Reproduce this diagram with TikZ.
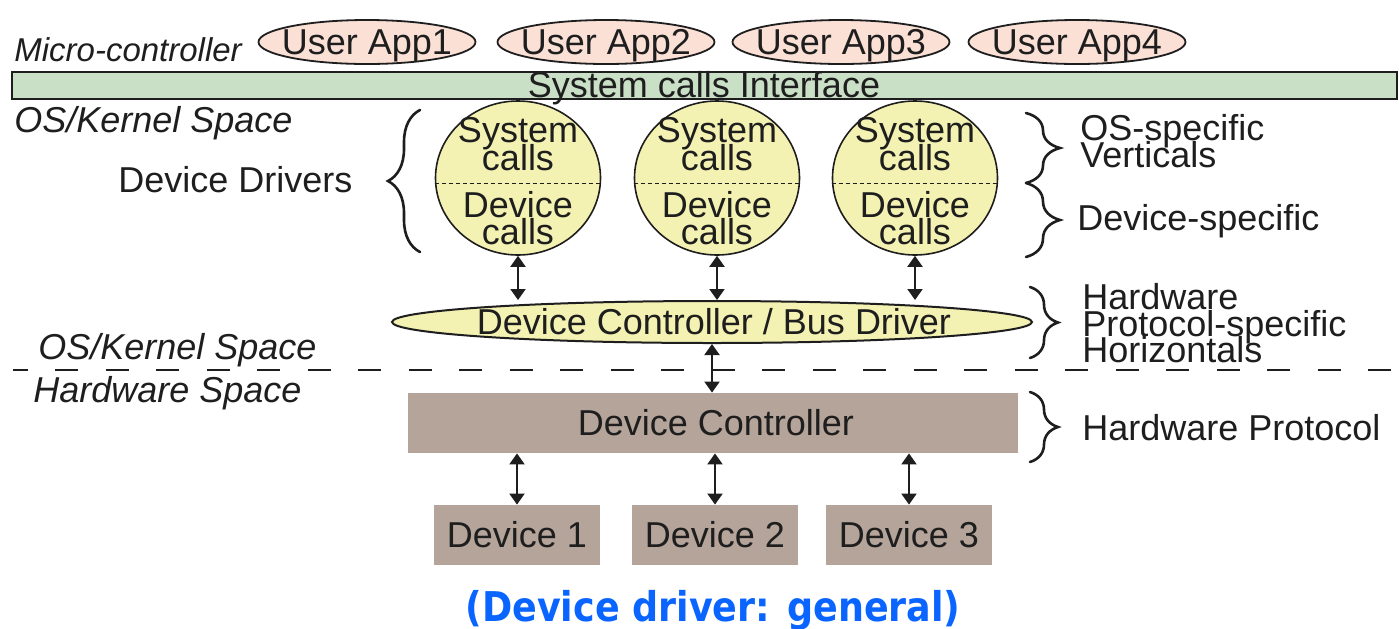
\documentclass[tikz,border=0pt]{standalone}
\usepackage{fontspec}
\setmainfont{Liberation Sans}
\newfontfamily\capfont{DejaVu Sans}[FakeStretch=0.89]
\usetikzlibrary{arrows.meta,shapes.geometric,decorations.pathreplacing,positioning}

\definecolor{ink}{HTML}{1E1E1E}
\definecolor{appfill}{HTML}{FBE0D6}
\definecolor{barfill}{HTML}{C9DFC6}
\definecolor{drvfill}{HTML}{F4F2B2}
\definecolor{hwfill}{HTML}{B5A49A}
\definecolor{capblue}{HTML}{0A64FF}

\begin{document}
\begin{tikzpicture}[x=0.5pt, y=-0.5pt,
    txt/.style={text=ink, inner sep=0pt, font=\fontsize{18}{13.5}\selectfont},
    ital/.style={txt, font=\itshape\fontsize{18}{13.5}\selectfont},
    app/.style={ellipse, draw=ink, line width=0.9pt, fill=appfill, minimum width=108.5pt, minimum height=22pt, inner sep=0pt},
    sysbar/.style={draw=ink, line width=1.2pt, fill=barfill, minimum width=692.5pt, minimum height=13.5pt, inner sep=0pt},
    drv/.style={ellipse, draw=ink, line width=0.8pt, fill=drvfill, minimum width=82.5pt, minimum height=77pt, inner sep=0pt},
    busdrv/.style={ellipse, draw=ink, line width=1pt, fill=drvfill, minimum width=320pt, minimum height=21pt, inner sep=0pt},
    hwbox/.style={fill=hwfill, minimum height=30pt, inner sep=0pt},
    dbl/.style={{Triangle[length=5.5pt,width=7.5pt]}-{Triangle[length=5.5pt,width=7.5pt]}, line width=1pt, draw=ink},
    brc/.style={decorate, decoration={brace, amplitude=#1}, line width=1.3pt, line cap=round, draw=ink},
    brc/.default=15pt]
        \useasboundingbox (0,0) rectangle (1399,628);

        % User space: the applications
        \node[txt, anchor=base west, font=\itshape\fontsize{16.5}{13.5}\selectfont] (micro) at (14,61) {Micro-controller};
        \foreach \i/\x in {1/367, 2/606, 3/841, 4/1077} {
            \node[app] (app\i) at (\x,42) {};
            \node[txt, anchor=base] (appname\i) at (\x,54) {User App\i};
        }

        % The system calls bar
        \node[sysbar] (bar) at (704.5,85.5) {};
        \node[txt, anchor=base] (bartext) at (704,97) {System calls Interface};

        % Device drivers (the OS-specific verticals)
        \node[ital, anchor=base west] (kernelup) at (14,132) {OS/Kernel Space};
        \node[txt, anchor=base west] (drvlabel) at (118,192) {Device Drivers};
        \draw[brc=16pt] (420,252) -- (420,110);
        \foreach \i/\x in {1/518, 2/717, 3/915} {
            \node[drv] (drv\i) at (\x,178) {};
            \draw[ink, line width=0.5pt, dash pattern=on 2pt off 1.5pt] ([yshift=-2.5pt]drv\i.west) -- ([yshift=-2.5pt]drv\i.east);
            \node[txt, anchor=base] (sysA\i) at (\x,142) {System};
            \node[txt, anchor=base] (sysB\i) at (\x,170) {calls};
            \node[txt, anchor=base] (devA\i) at (\x,217) {Device};
            \node[txt, anchor=base] (devB\i) at (\x,244) {calls};
        }
        \draw[brc=17pt] (1026,113) -- (1026,183);
        \draw[brc=17pt] (1026,183) -- (1026,257);
        \node[txt, anchor=base west] (osspec) at (1080,140) {OS-specific};
        \node[txt, anchor=base west] (vert) at (1080,167) {Verticals};
        \node[txt, anchor=base west] (devspec) at (1077,230) {Device-specific};

        % Bus driver (the horizontals)
        \node[busdrv] (bus) at (712,322) {};
        \node[txt, anchor=base] (bustext) at (714,334) {Device Controller / Bus Driver};
        \foreach \i in {1,2,3}
            \draw[dbl] (drv\i.south) -- (drv\i.south |- bus.north);
        \draw[brc=14pt] (1030,287) -- (1030,358);
        \node[txt, anchor=base west] (hwA) at (1082,309) {Hardware};
        \node[txt, anchor=base west] (hwB) at (1082,336) {Protocol-specific};
        \node[txt, anchor=base west] (hwC) at (1082,362) {Horizontals};

        % Border between kernel and hardware
        \draw[ink, line width=1pt, dash pattern=on 11.5pt off 13.75pt, dash phase=4.25pt] (13,370) -- (1399,370);
        \node[ital, anchor=base west] (kernellow) at (38,359) {OS/Kernel Space};
        \node[ital, anchor=base west] (hwspace) at (33,402) {Hardware Space};

        % Hardware: controller and devices
        \node[hwbox, minimum width=305pt] (ctrl) at (713,423) {};
        \node[txt, anchor=base] (ctrltext) at (716,435) {Device Controller};
        \draw[dbl] (bus.south) -- (bus.south |- ctrl.north);
        \draw[brc=14pt] (1030,392) -- (1030,462);
        \node[txt, anchor=base west] (hwproto) at (1082,440) {Hardware Protocol};
        \foreach \i/\x in {1/517, 2/715, 3/909} {
            \node[hwbox, minimum width=83pt] (dev\i) at (\x,535) {};
            \node[txt, anchor=base] (devname\i) at (\x,547) {Device \i};
            \draw[dbl] (dev\i.north) -- (dev\i.north |- ctrl.south);
        }

        % Caption
        \node[anchor=base, inner sep=0pt, text=capblue, font=\capfont\bfseries\fontsize{20.5}{22}\selectfont] (caption) at (713,621) {(Device driver: general)};
    \end{tikzpicture}
\end{document}
